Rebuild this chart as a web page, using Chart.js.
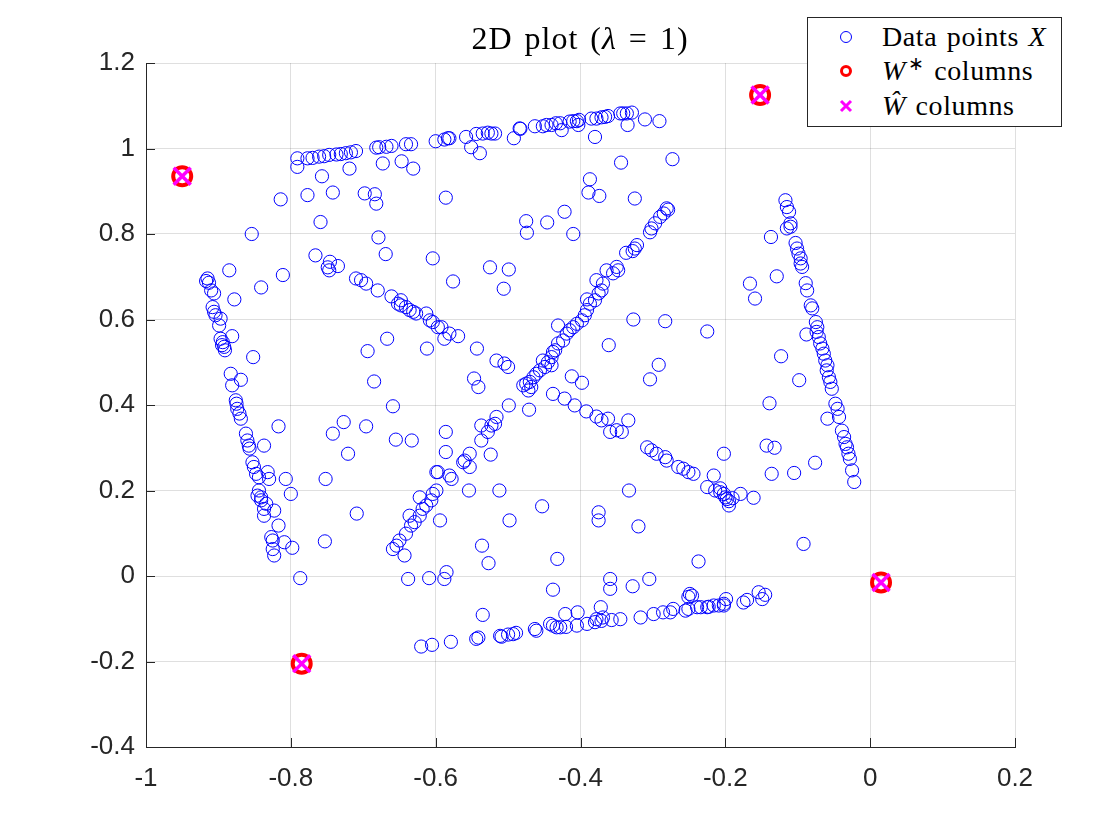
<!DOCTYPE html>
<html lang="en">
<head>
    <meta charset="UTF-8">
    <title>2D plot (λ = 1)</title>
    <script src="https://cdn.jsdelivr.net/npm/chart.js"></script>
    <style>
        body { margin: 0; background: #fff; }
        .wrap { position: relative; width: 1120px; height: 840px; }
        .plot-title {
            position: absolute; left: 330px; width: 500px; top: 18px;
            text-align: center; font-family: "Liberation Serif", serif;
            font-size: 32px; line-height: 40px; color: #000;
            letter-spacing: 1px; word-spacing: 3px;
        }
        .legend {
            position: absolute; left: 807px; top: 17px; width: 253px; height: 108px;
            border: 1px solid #262626; background: #fff;
            font-family: "Liberation Serif", serif; font-size: 28px; color: #000;
            letter-spacing: 0.6px; word-spacing: 2px;
        }
        .legend .row { position: absolute; left: 0; height: 32px; line-height: 32px; width: 100%; }
        .legend svg { position: absolute; left: 28px; top: 6px; }
        .legend span { position: absolute; left: 74px; white-space: nowrap; }
        .legend .star { position: relative; top: -10px; font-size: 19px; line-height: 0; margin-left: 2px; }
    </style>
</head>
<body>
<div class="wrap">
    <canvas id="plot" width="1120" height="840"></canvas>
    <div class="plot-title">2D plot (<i>λ</i> = 1)</div>
    <div class="legend">
        <div class="row" style="top:3px">
            <svg width="20" height="20"><circle cx="10" cy="10" r="5.5" fill="none" stroke="#0000ff" stroke-width="1"/></svg>
            <span>Data points <i>X</i></span>
        </div>
        <div class="row" style="top:37px">
            <svg width="20" height="20"><circle cx="10" cy="10" r="4.5" fill="none" stroke="#ff0000" stroke-width="3"/></svg>
            <span><i>W</i><span class="star" style="position:relative;left:0">∗</span> columns</span>
        </div>
        <div class="row" style="top:72px">
            <svg width="20" height="20"><path d="M5 5 L15 15 M15 5 L5 15" stroke="#ff00ff" stroke-width="3"/></svg>
            <span><i>Ŵ</i> columns</span>
        </div>
    </div>
</div>
<script>
    // axis ticks
    const xTicks = [-1, -0.8, -0.6, -0.4, -0.2, 0, 0.2];
    const xTickLabels = ['-1', '-0.8', '-0.6', '-0.4', '-0.2', '0', '0.2'];
    const yTicks = [-0.4, -0.2, 0, 0.2, 0.4, 0.6, 0.8, 1, 1.2];
    const yTickLabels = ['-0.4', '-0.2', '0', '0.2', '0.4', '0.6', '0.8', '1', '1.2'];

    // data points X, grouped by the stripe they sit on
    const topBand = [
        [-0.791,0.977],[-0.777,0.977],[-0.770,0.978],[-0.761,0.981],[-0.754,0.982],[-0.747,0.985],
        [-0.737,0.986],[-0.731,0.987],[-0.724,0.989],[-0.717,0.991],[-0.710,0.994],[-0.682,1.002],
        [-0.678,1.003],[-0.668,1.004],[-0.661,1.006],[-0.641,1.010],[-0.634,1.010],[-0.600,1.017],
        [-0.588,1.021],[-0.583,1.024],[-0.581,1.024],[-0.558,1.027],[-0.544,1.034],[-0.535,1.035],
        [-0.528,1.037],[-0.523,1.035],[-0.518,1.035],[-0.484,1.047],[-0.483,1.046],[-0.463,1.052],
        [-0.452,1.052],[-0.447,1.055],[-0.440,1.055],[-0.434,1.059],[-0.428,1.059],[-0.415,1.063],
        [-0.410,1.064],[-0.405,1.064],[-0.402,1.067],[-0.385,1.070],[-0.378,1.070],[-0.371,1.073],
        [-0.366,1.074],[-0.362,1.076],[-0.345,1.082],[-0.341,1.082],[-0.336,1.082],[-0.329,1.084],
        [-0.311,1.068],[-0.291,1.064]
    ];
    const leftBand = [
        [-0.915,0.696],[-0.913,0.686],[-0.910,0.668],[-0.906,0.661],[-0.917,0.690],[-0.908,0.629],
        [-0.906,0.618],[-0.904,0.610],[-0.897,0.602],[-0.899,0.586],[-0.897,0.555],[-0.894,0.547],
        [-0.892,0.536],[-0.891,0.528],[-0.895,0.540],[-0.883,0.473],[-0.881,0.446],[-0.876,0.411],
        [-0.875,0.403],[-0.874,0.391],[-0.871,0.380],[-0.869,0.368],[-0.862,0.333],[-0.860,0.317],
        [-0.858,0.305],[-0.857,0.298],[-0.853,0.266],[-0.851,0.255],[-0.848,0.239],[-0.844,0.231],
        [-0.844,0.200],[-0.846,0.188],[-0.841,0.184],[-0.841,0.177],[-0.834,0.169],[-0.837,0.157],
        [-0.823,0.153],[-0.837,0.141],[-0.827,0.091],[-0.825,0.083],[-0.825,0.063],[-0.823,0.048]
    ];
    const rightBand = [
        [-0.117,0.879],[-0.115,0.863],[-0.112,0.852],[-0.110,0.825],[-0.115,0.813],[-0.110,0.817],
        [-0.103,0.779],[-0.101,0.766],[-0.099,0.754],[-0.096,0.743],[-0.096,0.731],[-0.094,0.723],
        [-0.089,0.685],[-0.087,0.668],[-0.082,0.633],[-0.080,0.626],[-0.075,0.594],[-0.073,0.582],
        [-0.074,0.571],[-0.071,0.559],[-0.069,0.544],[-0.066,0.532],[-0.064,0.520],[-0.062,0.504],
        [-0.059,0.493],[-0.060,0.481],[-0.057,0.465],[-0.055,0.454],[-0.053,0.438],[-0.048,0.403],
        [-0.045,0.391],[-0.043,0.372],[-0.039,0.340],[-0.036,0.325],[-0.034,0.309],[-0.032,0.301],
        [-0.030,0.286],[-0.028,0.274],[-0.025,0.247],[-0.022,0.220]
    ];
    const bottomBand = [
        [-0.605,-0.161],[-0.620,-0.165],[-0.579,-0.154],[-0.544,-0.147],[-0.541,-0.144],[-0.511,-0.140],
        [-0.509,-0.142],[-0.500,-0.137],[-0.493,-0.136],[-0.489,-0.133],[-0.463,-0.124],[-0.461,-0.128],
        [-0.442,-0.112],[-0.438,-0.116],[-0.433,-0.120],[-0.428,-0.120],[-0.420,-0.119],[-0.405,-0.116],
        [-0.391,-0.112],[-0.380,-0.108],[-0.378,-0.101],[-0.371,-0.105],[-0.369,-0.097],[-0.357,-0.103],
        [-0.345,-0.101],[-0.317,-0.097],[-0.299,-0.089],[-0.286,-0.085],[-0.276,-0.085],[-0.272,-0.077],
        [-0.255,-0.081],[-0.251,-0.077],[-0.249,-0.042],[-0.251,-0.049],[-0.239,-0.073],[-0.225,-0.073],
        [-0.216,-0.069],[-0.209,-0.069],[-0.202,-0.069],[-0.199,-0.054],[-0.246,-0.046],[-0.234,-0.073],
        [-0.223,-0.072],[-0.202,-0.065],[-0.175,-0.062],[-0.170,-0.056],[-0.154,-0.038],[-0.149,-0.054],
        [-0.145,-0.044]
    ];
    const diagUp = [
        [-0.659,0.063],[-0.654,0.071],[-0.650,0.083],[-0.643,0.048],[-0.641,0.099],[-0.634,0.118],
        [-0.636,0.141],[-0.629,0.126],[-0.622,0.141],[-0.618,0.157],[-0.613,0.165],[-0.606,0.177],
        [-0.622,0.184],[-0.604,0.192],[-0.599,0.200],[-0.553,0.286],[-0.560,0.270],[-0.562,0.266],
        [-0.553,0.255],[-0.581,0.235],[-0.578,0.227],[-0.597,0.243],[-0.537,0.317],[-0.528,0.337],
        [-0.537,0.352],[-0.523,0.352],[-0.518,0.356],[-0.516,0.372],
        [-0.479,0.446],[-0.475,0.450],[-0.470,0.454],[-0.468,0.442],[-0.472,0.434],[-0.465,0.465],
        [-0.461,0.473],[-0.456,0.481],[-0.449,0.489],[-0.445,0.500],[-0.440,0.512],[-0.438,0.524],
        [-0.435,0.528],[-0.431,0.544],[-0.424,0.551],[-0.419,0.567],[-0.415,0.575],[-0.410,0.582],
        [-0.405,0.590],[-0.398,0.598],[-0.394,0.610],[-0.391,0.622],[-0.387,0.637],[-0.380,0.645],
        [-0.391,0.647],[-0.375,0.661],[-0.371,0.668],[-0.369,0.684],[-0.378,0.692],[-0.364,0.715],
        [-0.355,0.708],[-0.348,0.715],[-0.350,0.723],[-0.337,0.756],[-0.328,0.760],[-0.325,0.766],
        [-0.322,0.774],[-0.304,0.804],[-0.302,0.813],[-0.297,0.825],[-0.290,0.840],[-0.285,0.848],
        [-0.279,0.857],[-0.281,0.860]
    ];
    const diagDown = [
        [-0.710,0.696],[-0.703,0.692],[-0.696,0.684],[-0.680,0.668],[-0.661,0.654],[-0.648,0.645],
        [-0.652,0.637],[-0.648,0.633],[-0.641,0.629],[-0.636,0.622],[-0.631,0.618],[-0.627,0.614],
        [-0.613,0.614],[-0.608,0.598],[-0.604,0.594],[-0.597,0.582],[-0.592,0.582],[-0.588,0.555],
        [-0.581,0.567],[-0.569,0.561],[-0.543,0.532],[-0.516,0.504],[-0.505,0.497],[-0.500,0.489],
        [-0.438,0.426],[-0.422,0.415],[-0.408,0.399],[-0.392,0.385],[-0.378,0.373],[-0.371,0.364],
        [-0.362,0.368],[-0.359,0.337],[-0.350,0.341],[-0.343,0.337],[-0.308,0.301],[-0.302,0.294],
        [-0.295,0.286],[-0.283,0.278],[-0.281,0.270],[-0.265,0.255],[-0.258,0.251],[-0.251,0.243],
        [-0.244,0.239],[-0.225,0.208],[-0.214,0.200],[-0.207,0.196],[-0.202,0.192],[-0.200,0.184],
        [-0.207,0.205],[-0.198,0.180],[-0.195,0.175],[-0.190,0.182],[-0.195,0.165]
    ];
    const scattered = [
        [-0.791,0.957],[-0.757,0.935],[-0.719,0.953],[-0.673,0.965],[-0.647,0.970],[-0.631,0.953],
        [-0.551,1.003],[-0.539,0.989],[-0.492,1.024],[-0.426,1.043],[-0.403,1.055],[-0.335,1.055],
        [-0.380,1.027],[-0.273,0.975],[-0.344,0.967],[-0.387,0.928],[-0.389,0.897],[-0.374,0.889],
        [-0.325,0.883],[-0.586,0.885],[-0.475,0.830],[-0.474,0.803],[-0.446,0.827],[-0.422,0.852],
        [-0.410,0.800],[-0.814,0.881],[-0.777,0.891],[-0.742,0.897],[-0.698,0.895],[-0.684,0.893],
        [-0.682,0.871],[-0.759,0.828],[-0.854,0.800],[-0.679,0.792],[-0.669,0.753],[-0.604,0.743],
        [-0.766,0.750],[-0.746,0.735],[-0.735,0.725],[-0.747,0.715],[-0.749,0.722],[-0.811,0.704],
        [-0.841,0.675],[-0.885,0.715],[-0.878,0.647],[-0.576,0.689],[-0.525,0.722],[-0.499,0.717],
        [-0.506,0.672],
        [-0.881,0.561],[-0.852,0.512],[-0.869,0.459],[-0.817,0.350],[-0.837,0.305],[-0.832,0.243],
        [-0.830,0.227],[-0.807,0.227],[-0.800,0.192],[-0.742,0.333],[-0.727,0.360],[-0.696,0.350],
        [-0.721,0.286],[-0.667,0.555],[-0.694,0.526],[-0.612,0.532],[-0.685,0.455],[-0.659,0.397],
        [-0.655,0.319],[-0.633,0.317],[-0.752,0.227],[-0.599,0.243],
        [-0.547,0.462],[-0.541,0.442],[-0.431,0.586],[-0.440,0.493],[-0.452,0.504],[-0.499,0.399],
        [-0.471,0.389],[-0.586,0.337],[-0.586,0.290],[-0.524,0.284],[-0.554,0.200],[-0.512,0.200],
        [-0.412,0.467],[-0.398,0.452],[-0.361,0.540],[-0.292,0.494],[-0.304,0.460],[-0.327,0.600],
        [-0.283,0.596],[-0.225,0.572],[-0.334,0.364],[-0.216,0.235],[-0.202,0.286],[-0.333,0.200],
        [-0.817,0.118],[-0.809,0.079],[-0.798,0.066],[-0.787,-0.005],[-0.753,0.081],[-0.709,0.146],
        [-0.638,-0.007],[-0.609,-0.005],[-0.594,0.130],[-0.498,0.130],[-0.453,0.163],[-0.375,0.149],
        [-0.375,0.130],[-0.320,0.116],[-0.536,0.071],[-0.527,0.030],[-0.432,0.040],[-0.237,0.034],
        [-0.588,-0.007],[-0.585,0.009],[-0.438,-0.032],[-0.359,-0.007],[-0.359,-0.030],
        [-0.328,-0.024],[-0.305,-0.007],[-0.421,-0.089],[-0.404,-0.085],[-0.372,-0.073],[-0.535,-0.091],
        [-0.137,0.793],[-0.129,0.701],[-0.166,0.684],[-0.159,0.649],[-0.088,0.565],[-0.123,0.514],
        [-0.098,0.458],[-0.139,0.404],[-0.059,0.368],[-0.143,0.305],[-0.132,0.300],[-0.136,0.239],
        [-0.105,0.241],[-0.076,0.265],[-0.161,0.183],[-0.179,0.192],[-0.092,0.075]
    ];

    // true and recovered columns (they coincide)
    const wStar = [[-0.950,0.935],[-0.152,1.125],[0.015,-0.015],[-0.785,-0.205]];
    const wHat = [[-0.950,0.935],[-0.152,1.125],[0.015,-0.015],[-0.785,-0.205]];

    const toXY = arr => arr.map(p => ({ x: p[0], y: p[1] }));
    const allX = [].concat(topBand, leftBand, rightBand, bottomBand, diagUp, diagDown, scattered);

    const axisColor = '#262626';
    const gridColor = 'rgba(38,38,38,0.15)';
    const tickFont = { family: '"Liberation Sans", Arial, sans-serif', size: 26 };

    // MATLAB style ticks pointing into the plot box
    const innerTicks = {
        id: 'innerTicks',
        afterDraw(chart) {
            const { ctx, chartArea, scales } = chart;
            ctx.save();
            ctx.strokeStyle = axisColor;
            ctx.lineWidth = 1;
            scales.x.ticks.forEach(t => {
                const px = Math.round(scales.x.getPixelForValue(t.value)) + 0.5;
                ctx.beginPath();
                ctx.moveTo(px, chartArea.bottom);
                ctx.lineTo(px, chartArea.bottom - 9);
                ctx.stroke();
            });
            scales.y.ticks.forEach(t => {
                const py = Math.round(scales.y.getPixelForValue(t.value)) + 0.5;
                ctx.beginPath();
                ctx.moveTo(chartArea.left, py);
                ctx.lineTo(chartArea.left + 9, py);
                ctx.stroke();
            });
            ctx.restore();
        }
    };

    new Chart(document.getElementById('plot'), {
        type: 'scatter',
        data: {
            datasets: [
                {
                    label: 'Data points X',
                    data: toXY(allX),
                    pointStyle: 'circle',
                    pointRadius: 6.6,
                    pointBorderWidth: 1,
                    borderColor: '#0000ff',
                    backgroundColor: 'rgba(0,0,0,0)',
                    order: 3
                },
                {
                    label: 'W* columns',
                    data: toXY(wStar),
                    pointStyle: 'circle',
                    pointRadius: 9,
                    pointBorderWidth: 4,
                    borderColor: '#ff0000',
                    backgroundColor: 'rgba(0,0,0,0)',
                    order: 2
                },
                {
                    label: 'Ŵ columns',
                    data: toXY(wHat),
                    pointStyle: 'crossRot',
                    pointRadius: 12,
                    pointBorderWidth: 3.5,
                    borderColor: '#ff00ff',
                    backgroundColor: '#ff00ff',
                    order: 1
                }
            ]
        },
        options: {
            responsive: false,
            animation: false,
            devicePixelRatio: 1,
            layout: { padding: { left: 86, top: 63, right: 105, bottom: 43 } },
            plugins: {
                legend: { display: false },
                title: { display: false },
                tooltip: { enabled: false }
            },
            scales: {
                x: {
                    type: 'linear',
                    min: -1,
                    max: 0.2,
                    afterBuildTicks: s => { s.ticks = xTicks.map(v => ({ value: v })); },
                    afterFit: s => { s.height = 50; },
                    grid: { color: gridColor, drawTicks: false },
                    border: { color: axisColor, width: 1 },
                    ticks: {
                        color: axisColor,
                        font: tickFont,
                        padding: 16,
                        maxRotation: 0,
                        callback: v => xTickLabels[xTicks.findIndex(t => Math.abs(t - v) < 1e-9)]
                    }
                },
                y: {
                    type: 'linear',
                    min: -0.4,
                    max: 1.2,
                    afterBuildTicks: s => { s.ticks = yTicks.map(v => ({ value: v })); },
                    afterFit: s => { s.width = 60; },
                    grid: { color: gridColor, drawTicks: false },
                    border: { color: axisColor, width: 1 },
                    ticks: {
                        color: axisColor,
                        font: tickFont,
                        padding: 11,
                        callback: v => yTickLabels[yTicks.findIndex(t => Math.abs(t - v) < 1e-9)]
                    }
                }
            }
        },
        plugins: [innerTicks]
    });
</script>
</body>
</html>
